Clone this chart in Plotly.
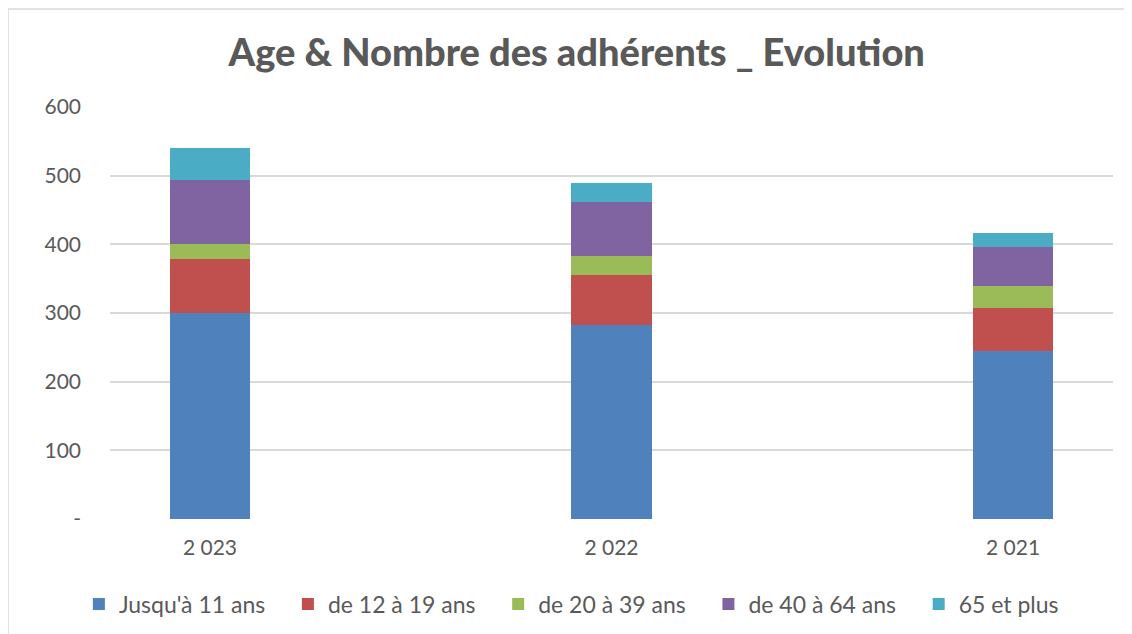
import plotly.graph_objects as go

categories = ["2 023", "2 022", "2 021"]
series_names = ["Jusqu'à 11 ans", "de 12 à 19 ans", "de 20 à 39 ans", "de 40 à 64 ans", "65 et plus"]
jusqu_11 = [300, 282, 245]
de_12_19 = [78, 74, 63]
de_20_39 = [22, 27, 31]
de_40_64 = [94, 78, 57]
plus_65 = [47, 29, 21]
colors = ["#4F81BD", "#C0504D", "#9BBB59", "#8064A2", "#4BACC6"]
y_ticks = [0, 100, 200, 300, 400, 500, 600]
y_ticktext = ["-", "100", "200", "300", "400", "500", "600"]

values = [jusqu_11, de_12_19, de_20_39, de_40_64, plus_65]
x_idx = list(range(len(categories)))

fig = go.Figure()
n = len(series_names)
for i, (name, vals, col) in enumerate(zip(series_names, values, colors)):
    label = name + ("\u00a0" * 3 if i < n - 1 else "")
    fig.add_trace(go.Bar(x=x_idx, y=vals, name=label, marker=dict(color=col, line=dict(width=0)),
                         width=0.2))

font_family = "Lato, 'Open Sans', sans-serif"
fig.update_layout(
    barmode="stack",
    width=1124, height=626,
    margin=dict(l=102, r=19, t=99, b=115),
    paper_bgcolor="white", plot_bgcolor="white",
    title=dict(text="Age &amp; Nombre des adhérents _ Evolution", x=0.506, xanchor="center",
               y=0.928, yanchor="middle",
               font=dict(family="Lato, sans-serif", size=38, color="#595959", weight=900)),
    font=dict(family=font_family, color="#595959", size=21),
    legend=dict(orientation="h", x=0.46, xanchor="center", yref="container", y=0.048,
                yanchor="middle",
                font=dict(size=23, color="#595959"), traceorder="normal", itemwidth=30),
    xaxis=dict(tickmode="array", tickvals=x_idx, ticktext=categories, range=[-0.249, 2.249],
               showgrid=False, zeroline=False, showline=False, ticks="", ticklabelstandoff=14,
               tickfont=dict(size=21, color="#595959")),
    yaxis=dict(tickmode="array", tickvals=y_ticks, ticktext=y_ticktext, range=[0, 600],
               showgrid=True, gridcolor="#D9D9D9", gridwidth=1.5, zeroline=False, showline=False,
               ticks="", ticklabelstandoff=28, tickfont=dict(size=21, color="#595959")),
    shapes=[dict(type="rect", xref="paper", yref="paper", x0=-0.1017, x1=1.03, y0=-0.35, y1=1.238,
                 line=dict(color="#D9D9D9", width=1.5), fillcolor="rgba(0,0,0,0)", layer="below")],
)
fig.write_html("out.html")
